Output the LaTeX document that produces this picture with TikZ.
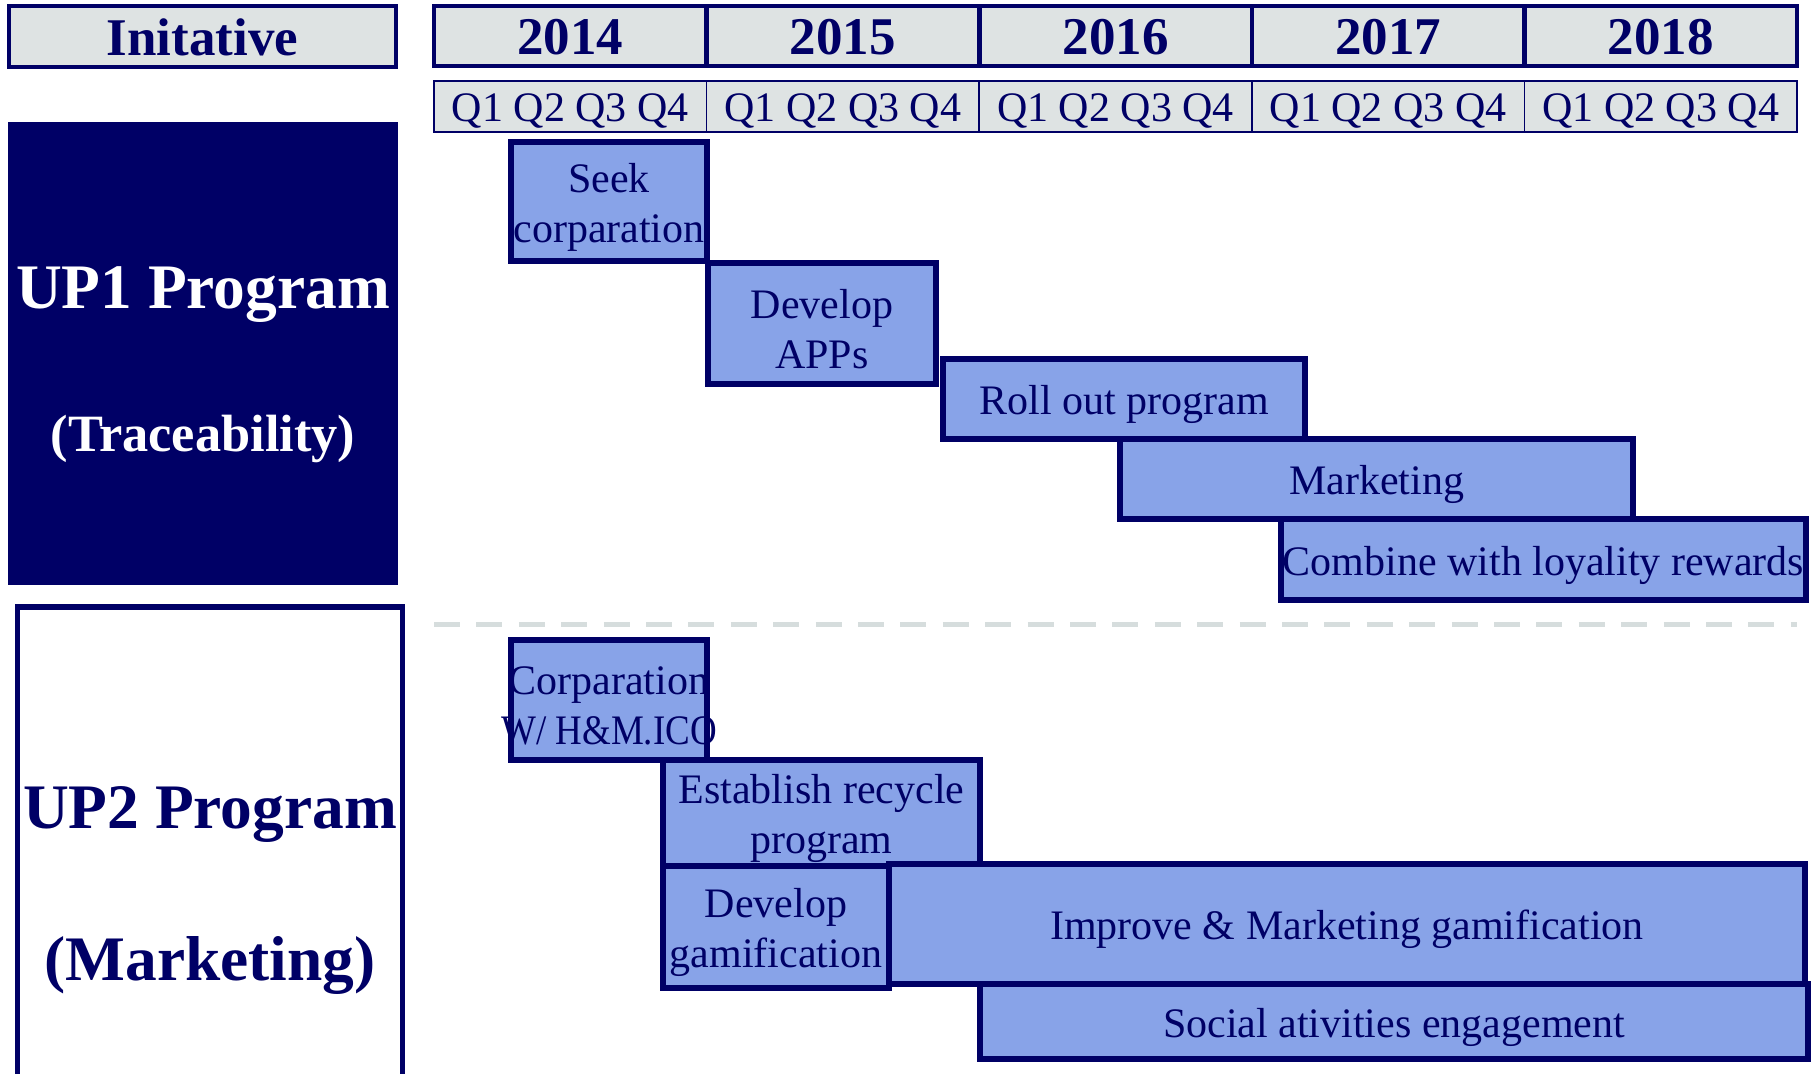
\documentclass[tikz,border=0pt]{standalone}
\usepackage{graphicx}
\usepackage{fontspec}
\setmainfont{Liberation Serif}
\definecolor{navy}{RGB}{0,0,102}
\definecolor{hdrgray}{RGB}{222,227,227}
\definecolor{taskblue}{RGB}{136,163,232}
\definecolor{sepgray}{RGB}{214,221,221}
\newcommand\ganttbar[5]{%
  \node[barbox, minimum width=#3, minimum height=#4] (#1) at (#2) {};
  \node[bartext] (#1-t) at ([yshift=-2.8pt]#1.center) {#5};}
\begin{document}
\begin{tikzpicture}[x=0.5pt, y=-0.5pt,
  hdr/.style={draw=navy, line width=2.3pt, fill=hdrgray, inner sep=0pt, text=navy,
    font=\fontsize{26.5}{30}\selectfont\bfseries, text height=19.5pt, text depth=0.5pt},
  yearcell/.style={hdr, minimum width=136.3pt, minimum height=30pt},
  qtrcell/.style={draw=navy, line width=0.8pt, fill=hdrgray, inner sep=0pt, text=navy,
    minimum width=136.3pt, minimum height=25.5pt, font=\fontsize{21}{25}\selectfont,
    text height=18.6pt, text depth=4pt},
  barbox/.style={draw=navy, line width=2.8pt, fill=taskblue, inner sep=0pt},
  bartext/.style={inner sep=0pt, text=navy, align=center, font=\fontsize{21}{25}\selectfont},
  bigbold/.style={inner sep=0pt, anchor=base, font=\fontsize{31.7}{36}\selectfont\bfseries}]
\useasboundingbox (0,0) rectangle (1820,1074);

% column headers
\node[hdr, minimum width=193.5pt, minimum height=30.5pt] (init) at (202.5,36.5) {Initative};
\foreach \yr [count=\i from 0] in {2014,2015,2016,2017,2018} {
  \node[yearcell] (y\yr) at ({434+272.6*(\i+0.5)},36) {\yr};
  \node[qtrcell] (q\yr) at ({434+272.6*(\i+0.5)},106.5) {Q1 Q2 Q3 Q4};
}

% program labels
\node[fill=navy, draw=navy, line width=1pt, inner sep=0pt, minimum width=194pt, minimum height=230.5pt] (up1) at (203,353.5) {};
\node[bigbold, text=white] (up1a) at (203,309) {UP1 Program};
\node[bigbold, text=white, font=\fontsize{26.2}{30}\selectfont\bfseries] (up1b) at (203,452) {(Traceability)};

\node[draw=navy, line width=2.5pt, fill=white, inner sep=0pt, minimum width=192.5pt, minimum height=239pt] (up2) at (209.5,846) {};
\node[bigbold, text=navy] (up2a) at (210,828) {UP2 Program};
\node[bigbold, text=navy] (up2b) at (210,980) {(Marketing)};

% separator between the two programs
\coordinate (sepl) at (434,624.5);
\coordinate (sepr) at (1797,624.5);
\draw[sepgray, line width=2.5pt, dash pattern=on 13pt off 8.2pt] (sepl) -- (sepr);

% UP1 schedule
\ganttbar{t1}{609,201.5}{98pt}{59.5pt}{Seek\\corparation}
\ganttbar{t2}{822,323.5}{114pt}{60.5pt}{Develop\\APPs}
\ganttbar{t3}{1124,399}{181pt}{40pt}{Roll out program}
\ganttbar{t4}{1376.5,479}{256.5pt}{40pt}{Marketing}
\ganttbar{t5}{1543.5,559.5}{262.5pt}{40.5pt}{Combine with loyality rewards}

% UP2 schedule
\ganttbar{u1}{609,700}{98pt}{60pt}{Corparation\\\scalebox{0.88}[1]{W/ H\&M.ICO}}
\ganttbar{u2}{821.5,813}{158.5pt}{53pt}{Establish recycle\\program}
\ganttbar{u3}{776,927}{113pt}{61pt}{Develop\\gamification}
\ganttbar{u4}{1347,924}{458pt}{60pt}{Improve \& Marketing gamification}
\ganttbar{u5}{1394,1021.5}{414pt}{37.5pt}{Social ativities engagement}
\end{tikzpicture}
\end{document}
